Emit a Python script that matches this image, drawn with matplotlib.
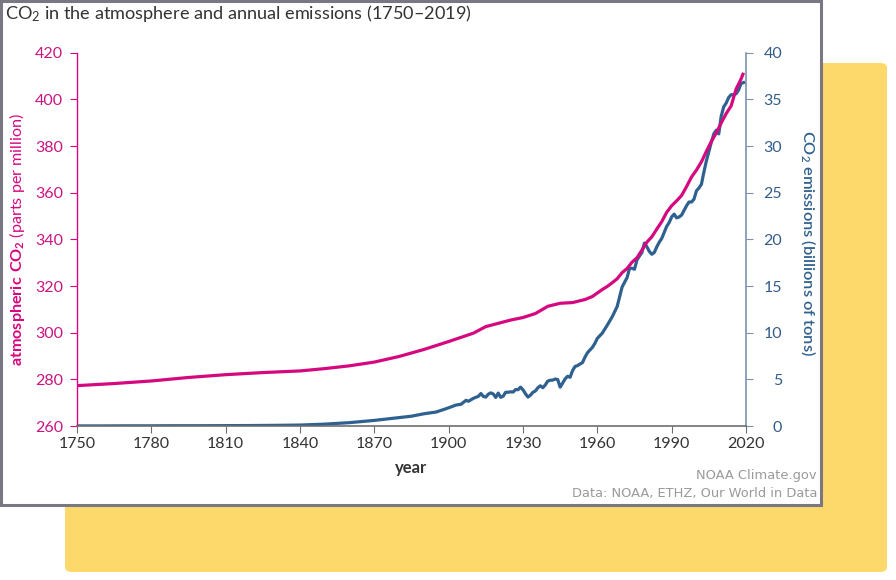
import matplotlib
matplotlib.use("Agg")
import matplotlib.pyplot as plt
from matplotlib.patches import FancyBboxPatch, Rectangle

plt.rcParams['mathtext.fontset'] = 'custom'
plt.rcParams['mathtext.rm'] = 'Lato'
plt.rcParams['mathtext.bf'] = 'Lato:bold'
plt.rcParams['mathtext.default'] = 'regular'

# ---------------- data ----------------
co2_years = [1750, 1765, 1780, 1795, 1810, 1825, 1840, 1850, 1860, 1870, 1880, 1890,
             1900, 1910, 1915, 1920, 1925, 1930, 1935, 1940, 1945, 1950, 1955, 1958,
             1960, 1962, 1964, 1966, 1968, 1970, 1972, 1974, 1976, 1978, 1980, 1982,
             1984, 1986, 1988, 1990, 1992, 1994, 1996, 1998, 2000, 2002, 2004, 2006,
             2008, 2010, 2012, 2014, 2016, 2018, 2019]
co2_ppm = [277.3, 278.2, 279.3, 280.8, 282.0, 282.9, 283.6, 284.6, 285.8, 287.4, 289.8, 292.8,
           296.2, 299.8, 302.6, 304.0, 305.4, 306.5, 308.2, 311.3, 312.6, 312.9, 314.2, 315.5,
           317.0, 318.5, 319.8, 321.4, 323.1, 325.7, 327.5, 330.2, 332.1, 335.4, 338.8, 341.1,
           344.4, 347.6, 351.6, 354.4, 356.5, 358.8, 362.6, 366.7, 369.7, 373.2, 377.7, 381.9,
           385.6, 389.9, 393.9, 397.2, 404.4, 408.7, 411.4]

em_years = [1750, 1760, 1770, 1780, 1790, 1800, 1810, 1820, 1830, 1840, 1850, 1860, 1870,
            1880, 1885, 1890, 1895, 1900, 1903, 1905, 1907, 1908, 1910, 1912, 1913, 1914,
            1915, 1916, 1917, 1918, 1919, 1920, 1921, 1922, 1923, 1924, 1925, 1926, 1927,
            1928, 1929, 1930, 1931, 1932, 1933, 1934, 1935, 1936, 1937, 1938, 1939, 1940,
            1941, 1942, 1943, 1944, 1945, 1946, 1947, 1948, 1949, 1950, 1951, 1952, 1953,
            1954, 1955, 1956, 1957, 1958, 1959, 1960, 1962, 1964, 1966, 1968, 1970, 1972,
            1973, 1974, 1975, 1976, 1978, 1979, 1980, 1981, 1982, 1983, 1984, 1985, 1986,
            1988, 1989, 1990, 1991, 1992, 1993, 1994, 1995, 1996, 1997, 1998, 1999, 2000,
            2001, 2002, 2003, 2004, 2005, 2006, 2007, 2008, 2009, 2010, 2011, 2012, 2013,
            2014, 2015, 2016, 2017, 2018, 2019]
em_gt = [0.01, 0.01, 0.02, 0.02, 0.03, 0.03, 0.04, 0.05, 0.07, 0.10, 0.20, 0.36, 0.60,
         0.90, 1.05, 1.31, 1.50, 1.95, 2.25, 2.33, 2.75, 2.65, 2.97, 3.18, 3.48, 3.17,
         3.10, 3.41, 3.55, 3.43, 3.06, 3.53, 3.07, 3.20, 3.61, 3.62, 3.66, 3.64, 3.90,
         3.89, 4.16, 3.88, 3.45, 3.10, 3.30, 3.61, 3.75, 4.10, 4.31, 4.10, 4.40, 4.81,
         4.90, 4.92, 5.03, 4.98, 4.16, 4.60, 5.05, 5.33, 5.22, 5.93, 6.38, 6.47, 6.64,
         6.79, 7.37, 7.84, 8.14, 8.42, 8.85, 9.39, 9.95, 10.8, 11.7, 12.8, 14.9, 15.9,
         16.9, 16.9, 16.8, 17.8, 18.6, 19.6, 19.2, 18.7, 18.4, 18.6, 19.2, 19.7, 20.1,
         21.4, 21.8, 22.4, 22.7, 22.3, 22.4, 22.6, 23.1, 23.6, 24.0, 24.0, 24.3, 25.2,
         25.5, 25.9, 27.2, 28.4, 29.4, 30.4, 31.3, 31.7, 31.3, 33.2, 34.2, 34.6, 35.2,
         35.5, 35.5, 35.6, 36.0, 36.7, 36.8]

x_ticks = [1750, 1780, 1810, 1840, 1870, 1900, 1930, 1960, 1990, 2020]
left_ticks = [260, 280, 300, 320, 340, 360, 380, 400, 420]
right_ticks = [0, 5, 10, 15, 20, 25, 30, 35, 40]

MAGENTA = '#D6087F'
BLUE = '#2F6190'
RSPINE = '#7C93AB'
YELLOW = '#FDD96C'

W, H = 896, 580
fig = plt.figure(figsize=(W / 100, H / 100), dpi=100)
fig.patch.set_facecolor('white')

# yellow backdrop and white panel
yel = FancyBboxPatch((65 / W, 1 - 572 / H), (887 - 65) / W, (572 - 63) / H,
                     boxstyle="round,pad=0,rounding_size=0.008",
                     transform=fig.transFigure, facecolor=YELLOW, edgecolor='none', zorder=0)
fig.patches.append(yel)
panel = Rectangle((1 / W, 1 - 504.5 / H), 820 / W, 503.5 / H, transform=fig.transFigure,
                  facecolor='white', edgecolor='#7A7682', linewidth=2.2, zorder=1)
fig.patches.append(panel)

ax = fig.add_axes([77 / W, 1 - 426 / H, (746 - 77) / W, (426 - 52.7) / H])
ax.set_zorder(3)
ax.patch.set_visible(False)
ax2 = ax.twinx()
ax2.set_zorder(2)

ax.plot(co2_years, co2_ppm, color=MAGENTA, linewidth=2.3, zorder=5, solid_capstyle='butt')
ax2.plot(em_years, em_gt, color=BLUE, linewidth=2.3, zorder=4)

ax.set_xlim(1750, 2020)
ax.set_ylim(260, 420)
ax2.set_ylim(0, 40)
ax.set_xticks(x_ticks)
ax.set_yticks(left_ticks)
ax2.set_yticks(right_ticks)

for a in (ax, ax2):
    a.spines['top'].set_visible(False)
ax.spines['right'].set_visible(False)
ax2.spines['left'].set_visible(False)
ax2.spines['bottom'].set_visible(False)
ax.spines['left'].set_color(MAGENTA)
ax.spines['left'].set_linewidth(1.0)
ax.spines['bottom'].set_color('#6E6E6E')
ax.spines['bottom'].set_linewidth(1.2)
ax2.spines['right'].set_color(RSPINE)
ax2.spines['right'].set_linewidth(1.2)

ax.tick_params(axis='y', colors=MAGENTA, labelcolor='#CC1480', length=5, width=0.8,
               pad=5, labelsize=11.5, labelfontfamily='Lato')
ax.tick_params(axis='x', colors='#6E6E6E', labelcolor='#333333', length=5, width=0.8,
               pad=3, labelsize=11.5, labelfontfamily='Lato')
ax2.tick_params(axis='y', colors=RSPINE, labelcolor='#345C8A', length=5, width=0.8,
                pad=21, labelsize=11.5, labelfontfamily='Lato')
for lbl in ax2.get_yticklabels():
    lbl.set_horizontalalignment('right')

ax.set_xlabel('year', fontsize=12, fontweight='bold', color='#333333', family='Lato')
ax.xaxis.set_label_coords(0.5, (426 - 468) / (426 - 52.7))
ax.xaxis.label.set_va('center')
ax.set_ylabel(r'$\mathbf{atmospheric\ CO}_\mathbf{2}$ (parts per million)', fontsize=11.6,
              color=MAGENTA, family='Lato')
ax.yaxis.set_label_coords((17 - 77) / 669, 0.5)
ax.yaxis.label.set_va('center')
ax2.set_ylabel(r'CO$_2$ emissions (billions of tons)', fontsize=11.8, color=BLUE,
               family='Lato', fontweight='semibold', rotation=270)
ax2.yaxis.set_label_coords((808 - 77) / 669, 0.49)
ax2.yaxis.label.set_va('center')

fig.text(5 / W, 1 - 14 / H, r'CO$_2$ in the atmosphere and annual emissions (1750–2019)',
         fontsize=13.1, color='#333333', family='Lato', va='center', ha='left', zorder=5)
fig.text(817 / W, 1 - 476 / H, 'NOAA Climate.gov', fontsize=9.4, color='#9A9A9A',
         family='DejaVu Sans', ha='right', va='center', zorder=5)
fig.text(817 / W, 1 - 493 / H, 'Data: NOAA, ETHZ, Our World in Data', fontsize=9.4,
         color='#9A9A9A', family='DejaVu Sans', ha='right', va='center', zorder=5)

fig.savefig('out.png', dpi=100)
